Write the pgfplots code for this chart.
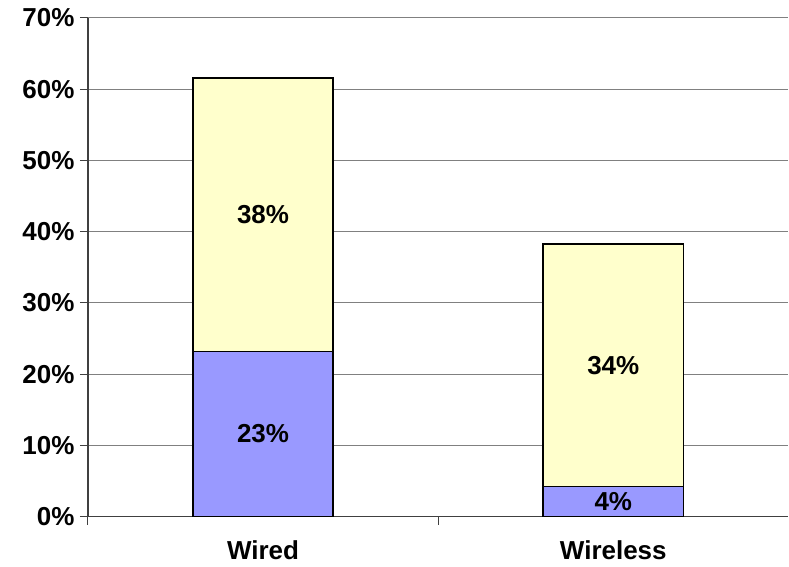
\documentclass[border=0pt]{standalone}
\usepackage{fontspec}
\setmainfont{Liberation Sans}
\usepackage{pgfplots}
\pgfplotsset{compat=1.18}

\definecolor{barblue}{HTML}{9999FF}
\definecolor{baryellow}{HTML}{FFFFCC}
\definecolor{gridgray}{HTML}{808080}
\definecolor{axisgray}{HTML}{404040}

\begin{document}
\begin{tikzpicture}
\begin{axis}[
  scale only axis,
  width=701pt, height=499pt,
  ybar stacked,
  bar width=0.4,
  xmin=-0.5, xmax=1.5,
  ymin=0, ymax=70,
  ytick={0,10,...,70},
  yticklabel={\pgfmathprintnumber{\tick}\%},
  /pgf/number format/assume math mode=true,
  ymajorgrids,
  grid style={gridgray, line width=1pt},
  xtick={0,1},
  xticklabels={Wired,Wireless},
  xtick style={draw=none},
  extra x ticks={-0.5,0.5},
  extra x tick labels={},
  extra x tick style={grid=none, xtick style={draw=axisgray, line width=1pt}},
  ytick style={draw=axisgray, line width=1pt},
  major tick length=8pt,
  tick align=outside,
  axis x line*=bottom,
  axis y line*=left,
  axis line style={draw=axisgray, line width=1.2pt, -},
  tick label style={font=\fontsize{26}{30}\selectfont\bfseries},
  yticklabel style={xshift=-2pt},
  xticklabel style={inner sep=0pt, text depth=0pt, yshift=-16pt},
  clip=false,
]
% lower segment
\addplot[fill=barblue, draw=black, line width=1.5pt]
  coordinates {(0,23.2) (1,4.2)};
% upper segment
\addplot[fill=baryellow, draw=black, line width=1.5pt]
  coordinates {(0,38.4) (1,34.1)};

% centres of the segments, for the value labels
\coordinate (wiredlo) at (axis cs:0,11.6);
\coordinate (wiredhi) at (axis cs:0,42.4);
\coordinate (wirelesslo) at (axis cs:1,2.1);
\coordinate (wirelesshi) at (axis cs:1,21.25);
\end{axis}
\begin{scope}[every node/.style={font=\fontsize{26}{30}\selectfont\bfseries}]
\node at (wiredlo) {23\%};
\node at (wiredhi) {38\%};
\node at (wirelesslo) {4\%};
\node at (wirelesshi) {34\%};
\end{scope}
\useasboundingbox (-88pt,-50pt) rectangle (701pt,517pt);
\end{tikzpicture}
\end{document}
